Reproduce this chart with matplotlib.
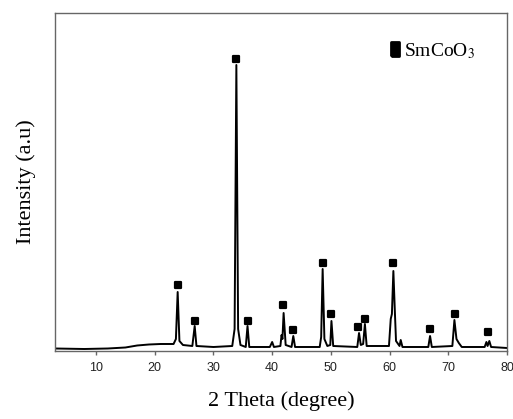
import matplotlib
matplotlib.use('Agg')
import matplotlib.pyplot as plt
from matplotlib.markers import MarkerStyle

# XRD trace (2theta, intensity in arbitrary units)
two_theta = [3.0, 8.0, 12.0, 15.0, 17.0, 19.0, 21.0, 23.2, 23.6, 23.9, 24.2, 24.8,
             26.4, 26.8, 27.1, 30.0, 33.2, 33.6, 33.9, 34.2, 34.6, 35.5, 35.8, 36.1,
             39.6, 40.0, 40.3, 41.4, 41.6, 41.75, 41.95, 42.3, 43.3, 43.6, 43.9,
             48.1, 48.35, 48.6, 48.9, 49.4, 49.9, 50.1, 50.4, 54.5, 54.8, 55.1, 55.5,
             55.8, 56.1, 59.9, 60.2, 60.4, 60.65, 60.9, 61.1, 61.7, 61.9, 62.2,
             66.6, 66.9, 67.2, 70.7, 71.05, 71.4, 71.8, 72.3, 76.2, 76.5, 76.7,
             77.0, 77.3, 80.0]
intensity = [0.5, 0.0, 0.5, 1.5, 3.5, 4.5, 5.0, 5.0, 10, 57, 8, 4,
             3, 23, 3, 2, 3, 20, 284, 20, 4, 2, 23, 2,
             2, 7, 2, 3, 14, 10, 36, 4, 2, 13, 2,
             2, 12, 80, 10, 3, 4, 28, 3, 2, 16, 4, 5,
             25, 3, 3, 30, 35, 78, 38, 8, 3, 9, 2,
             2, 13, 2, 3, 29, 10, 6, 2, 2, 7, 3,
             8, 2, 1]

# SmCoO3 peak markers
mark_x = [23.9, 26.8, 33.9, 35.8, 41.9, 43.6, 48.6, 50.1, 54.6, 55.8, 60.6, 66.9, 71.1, 76.8]
mark_y = [64, 28, 290, 28, 44, 19, 86, 35, 22, 30, 86, 20, 35, 17]

xticks = [10, 20, 30, 40, 50, 60, 70, 80]

fig = plt.figure(figsize=(5.13, 4.19), dpi=100)
ax = fig.add_axes([0.1072, 0.1623, 0.881, 0.8067])

ax.plot(two_theta, intensity, color='black', lw=1.4)
sq = MarkerStyle('s', joinstyle='round')
ax.plot(mark_x, mark_y, ls='none', marker=sq, ms=5, color='black', mew=1.6)

# legend-like label
tall = MarkerStyle([(-0.55, -1), (0.55, -1), (0.55, 1), (-0.55, 1), (-0.55, -1)], joinstyle='round')
ax.plot([0.752], [0.893], transform=ax.transAxes, marker=tall, ms=10, color='black', mew=2, ls='none')
ax.text(0.772, 0.888, 'SmCoO$_3$', transform=ax.transAxes, va='center', ha='left',
        fontsize=14, family='Liberation Serif', math_fontfamily='stix')

ax.set_xlim(3, 80)
ax.set_ylim(-2, 336)
ax.set_xticks(xticks)
ax.set_yticks([])
for lab in ax.get_xticklabels():
    lab.set_family('Liberation Sans')
ax.tick_params(axis='x', direction='out', length=3, width=1, color='#666666',
               labelsize=9, labelcolor='#222222', pad=5)
for s in ax.spines.values():
    s.set_color('#666666')
    s.set_linewidth(1.0)

ax.set_xlabel('2 Theta (degree)', fontsize=16, family='Liberation Serif', labelpad=12)
ax.set_ylabel('Intensity (a.u)', fontsize=16, family='Liberation Serif', labelpad=14)

fig.savefig('out.png', dpi=100)
